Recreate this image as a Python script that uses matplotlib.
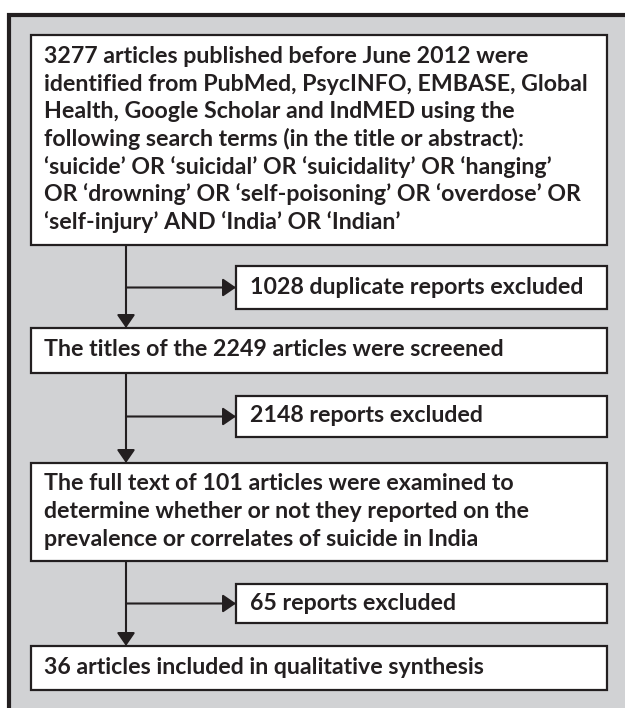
#!/usr/bin/env python3
"""Flow diagram of article selection (suicide in India review)."""

from __future__ import annotations

import matplotlib

matplotlib.use("Agg")
import matplotlib.pyplot as plt
from matplotlib.patches import FancyArrowPatch, Rectangle

DARK = "#231f20"
GREY = "#d1d2d4"

MAIN_TEXTS = [
    [
        "3277 articles published before June 2012 were",
        "identified from PubMed, PsycINFO, EMBASE, Global",
        "Health, Google Scholar and IndMED using the",
        "following search terms (in the title or abstract):",
        "\u2018suicide\u2019 OR \u2018suicidal\u2019 OR \u2018suicidality\u2019 OR \u2018hanging\u2019",
        "OR \u2018drowning\u2019 OR \u2018self-poisoning\u2019 OR \u2018overdose\u2019 OR",
        "\u2018self-injury\u2019 AND \u2018India\u2019 OR \u2018Indian\u2019",
    ],
    ["The titles of the 2249 articles were screened"],
    [
        "The full text of 101 articles were examined to",
        "determine whether or not they reported on the",
        "prevalence or correlates of suicide in India",
    ],
    ["36 articles included in qualitative synthesis"],
]
SIDE_TEXTS = [
    "1028 duplicate reports excluded",
    "2148 reports excluded",
    "65 reports excluded",
]

# layout in pixels (top, bottom) for each box
MAIN_Y = [(35, 245), (328, 373), (463, 561), (646, 690)]
SIDE_Y = [(266, 309), (396, 437), (584, 623)]
MAIN_X = (31, 607)
SIDE_X = (236, 607)
STEM_X = 126
LINE_GAP = 27.7
FONT = dict(family=["Lato", "DejaVu Sans"], fontweight="bold", fontsize=16.65, color=DARK)


def _box(ax, x0, x1, y0, y1):
    ax.add_patch(Rectangle((x0, y0), x1 - x0, y1 - y0, facecolor="white",
                           edgecolor=DARK, lw=1.6, zorder=3))


def _arrow(ax, p0, p1):
    ax.add_patch(FancyArrowPatch(p0, p1, arrowstyle="-|>,head_length=8,head_width=5.5",
                                 mutation_scale=1, shrinkA=0, shrinkB=0,
                                 color=DARK, lw=1.5, zorder=2))


def main() -> None:
    fig = plt.figure(figsize=(6.25, 7.08), dpi=100)
    ax = fig.add_axes([0, 0, 1, 1])
    ax.set_xlim(0, 625)
    ax.set_ylim(708, 0)
    ax.axis("off")

    # outer frame, cropped at right and bottom: grey fill plus top and left rules
    ax.add_patch(Rectangle((9, 15), 700, 750, facecolor=GREY, edgecolor="none", zorder=1))
    ax.plot([9, 9, 700], [760, 15, 15], color=DARK, lw=3, solid_joinstyle="miter", zorder=1.5)

    for lines, (y0, y1) in zip(MAIN_TEXTS, MAIN_Y):
        _box(ax, MAIN_X[0], MAIN_X[1], y0, y1)
        n = len(lines)
        first = (y0 + y1) / 2 - (n - 1) * LINE_GAP / 2 + 6
        for i, line in enumerate(lines):
            ax.text(MAIN_X[0] + 13, first + i * LINE_GAP, line, va="baseline",
                    ha="left", zorder=4, **FONT)

    for label, (y0, y1) in zip(SIDE_TEXTS, SIDE_Y):
        _box(ax, SIDE_X[0], SIDE_X[1], y0, y1)
        ax.text(SIDE_X[0] + 14, (y0 + y1) / 2 + 6, label, va="baseline", ha="left",
                zorder=4, **FONT)

    for i, (sy0, sy1) in enumerate(SIDE_Y):
        top = MAIN_Y[i][1]
        bottom = MAIN_Y[i + 1][0]
        _arrow(ax, (STEM_X, top), (STEM_X, bottom))
        mid = (sy0 + sy1) / 2
        _arrow(ax, (STEM_X, mid), (SIDE_X[0], mid))

    fig.savefig("out.png", dpi=100)
    plt.close(fig)


if __name__ == "__main__":
    main()
